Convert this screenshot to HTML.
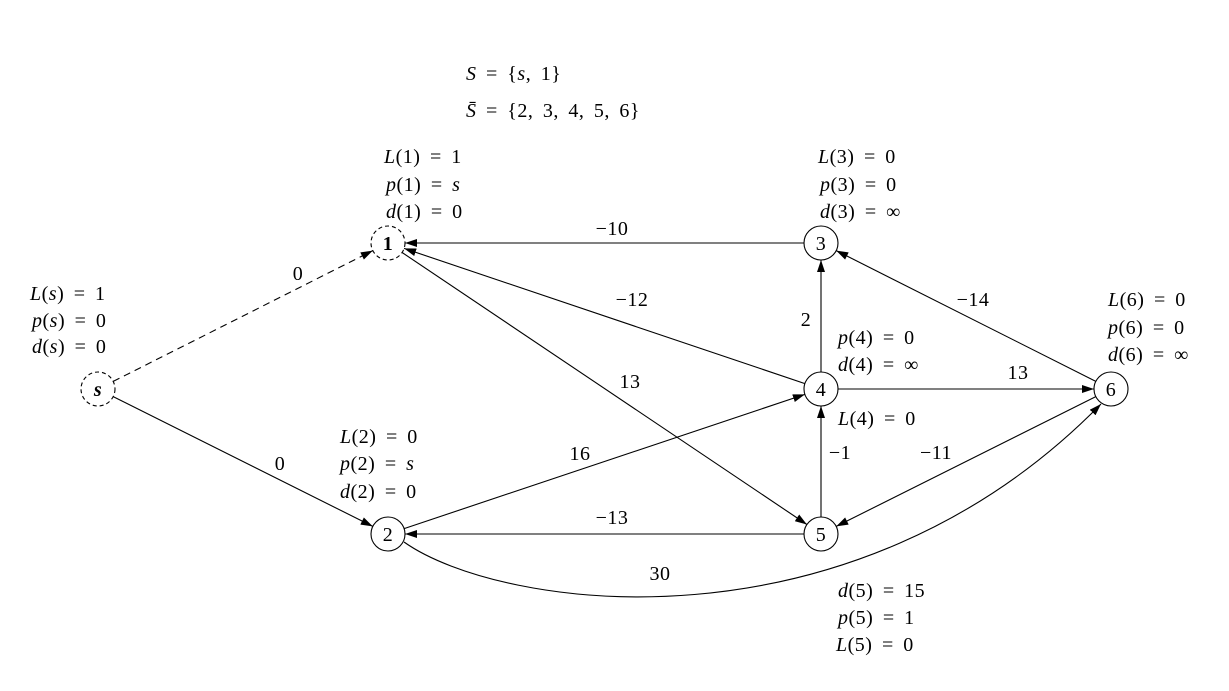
<!DOCTYPE html>
<html><head><meta charset="utf-8"><style>
body{margin:0;background:#fff}
svg{display:block}
text{font-family:"Liberation Serif",serif;font-size:20px;fill:#000;word-spacing:4px;letter-spacing:0.5px}
.i{font-style:italic}
</style></head><body>
<svg width="1229" height="691" viewBox="0 0 1229 691" xmlns="http://www.w3.org/2000/svg">
<defs><marker id="a" viewBox="0 0 12 8" refX="12" refY="4" markerWidth="12" markerHeight="8" markerUnits="userSpaceOnUse" orient="auto"><path d="M0,0L12,4L0,8z" fill="#000"/></marker></defs>
<g stroke="#000" stroke-width="1.1" fill="none">
<circle cx="98" cy="389" r="17" stroke-dasharray="4,3"/>
<circle cx="388" cy="243" r="17" stroke-dasharray="4,3"/>
<circle cx="388" cy="534" r="17"/>
<circle cx="821" cy="243" r="17"/>
<circle cx="821" cy="389" r="17"/>
<circle cx="821" cy="534" r="17"/>
<circle cx="1111" cy="389" r="17"/>
<line x1="113.2" y1="381.4" x2="372.8" y2="250.6" stroke-dasharray="7,5" marker-end="url(#a)"/>
<line x1="113.2" y1="396.6" x2="372.8" y2="526.4" marker-end="url(#a)"/>
<line x1="804" y1="243" x2="405" y2="243" marker-end="url(#a)"/>
<line x1="804.9" y1="383.6" x2="404.1" y2="248.4" marker-end="url(#a)"/>
<line x1="402.1" y1="252.5" x2="806.9" y2="524.5" marker-end="url(#a)"/>
<line x1="404.1" y1="528.6" x2="804.9" y2="394.4" marker-end="url(#a)"/>
<line x1="804" y1="534" x2="405" y2="534" marker-end="url(#a)"/>
<line x1="821" y1="372" x2="821" y2="260" marker-end="url(#a)"/>
<line x1="821" y1="517" x2="821" y2="406" marker-end="url(#a)"/>
<line x1="838" y1="389" x2="1094" y2="389" marker-end="url(#a)"/>
<line x1="1095.8" y1="381.4" x2="836.2" y2="250.6" marker-end="url(#a)"/>
<line x1="1095.8" y1="396.6" x2="836.2" y2="526.4" marker-end="url(#a)"/>
<path d="M404,542 C500,610 850,660 1101,404" marker-end="url(#a)"/>
</g>
<g text-anchor="middle">
<text x="98" y="396" font-weight="bold" class="i">s</text>
<text x="388" y="250" font-weight="bold">1</text>
<text x="388" y="541">2</text>
<text x="821" y="250">3</text>
<text x="821" y="396">4</text>
<text x="821" y="541">5</text>
<text x="1111" y="396">6</text>
<text x="298" y="280">0</text>
<text x="280" y="470">0</text>
<text x="612" y="235">−10</text>
<text x="632" y="306">−12</text>
<text x="630" y="388">13</text>
<text x="580" y="460">16</text>
<text x="612" y="524">−13</text>
<text x="806" y="326">2</text>
<text x="840" y="459">−1</text>
<text x="1018" y="379">13</text>
<text x="973" y="306">−14</text>
<text x="936" y="459">−11</text>
<text x="660" y="580">30</text>
</g>
<g>
<text x="466" y="80"><tspan class="i">S</tspan> = {<tspan class="i">s</tspan>, 1}</text>
<text x="466" y="117"><tspan class="i">S̄</tspan> = {2, 3, 4, 5, 6}</text>
<text x="384" y="163"><tspan class="i">L</tspan>(1) = 1</text>
<text x="386" y="191"><tspan class="i">p</tspan>(1) = <tspan class="i">s</tspan></text>
<text x="386" y="218"><tspan class="i">d</tspan>(1) = 0</text>
<text x="818" y="163"><tspan class="i">L</tspan>(3) = 0</text>
<text x="820" y="191"><tspan class="i">p</tspan>(3) = 0</text>
<text x="820" y="218"><tspan class="i">d</tspan>(3) = ∞</text>
<text x="30" y="300"><tspan class="i">L</tspan>(<tspan class="i">s</tspan>) = 1</text>
<text x="32" y="327"><tspan class="i">p</tspan>(<tspan class="i">s</tspan>) = 0</text>
<text x="32" y="353"><tspan class="i">d</tspan>(<tspan class="i">s</tspan>) = 0</text>
<text x="1108" y="306"><tspan class="i">L</tspan>(6) = 0</text>
<text x="1108" y="334"><tspan class="i">p</tspan>(6) = 0</text>
<text x="1108" y="361"><tspan class="i">d</tspan>(6) = ∞</text>
<text x="838" y="344"><tspan class="i">p</tspan>(4) = 0</text>
<text x="838" y="371"><tspan class="i">d</tspan>(4) = ∞</text>
<text x="838" y="425"><tspan class="i">L</tspan>(4) = 0</text>
<text x="340" y="443"><tspan class="i">L</tspan>(2) = 0</text>
<text x="340" y="470"><tspan class="i">p</tspan>(2) = <tspan class="i">s</tspan></text>
<text x="340" y="498"><tspan class="i">d</tspan>(2) = 0</text>
<text x="838" y="597"><tspan class="i">d</tspan>(5) = 15</text>
<text x="838" y="624"><tspan class="i">p</tspan>(5) = 1</text>
<text x="836" y="651"><tspan class="i">L</tspan>(5) = 0</text>
</g>
</svg>
</body></html>
